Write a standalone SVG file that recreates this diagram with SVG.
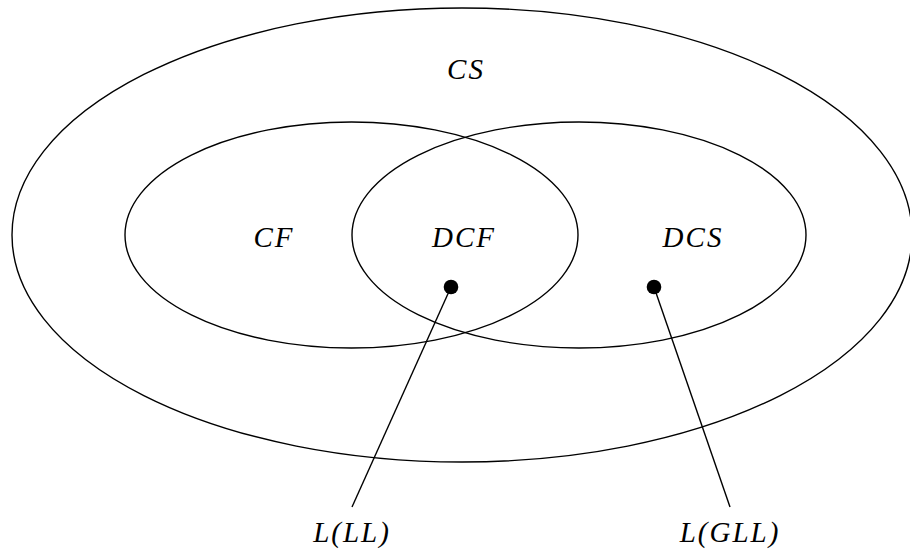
<svg xmlns="http://www.w3.org/2000/svg" width="910" height="556" viewBox="0 0 910 556">
<style>
.set{fill:none;stroke:#000;stroke-width:1.4}
.lbl{font-family:"Liberation Serif","DejaVu Serif",serif;font-style:italic;font-size:29px;letter-spacing:2px;text-anchor:middle;fill:#000}
.dot{fill:#000}
.conn{stroke:#000;stroke-width:1.4;fill:none}
</style>
<rect width="910" height="556" fill="#fff"/>
<g id="CS">
<ellipse class="set" cx="462" cy="235" rx="450" ry="227"/>
<text class="lbl" x="466" y="79">CS</text>
</g>
<g id="CF">
<ellipse class="set" cx="351.5" cy="235" rx="226.5" ry="113"/>
<text class="lbl" x="274" y="247">CF</text>
</g>
<g id="DCS">
<ellipse class="set" cx="579" cy="235" rx="227" ry="113"/>
<text class="lbl" x="693" y="247">DCS</text>
</g>
<g id="DCF">
<text class="lbl" x="464" y="247">DCF</text>
</g>
<g id="connectors">
<line class="conn" x1="451" y1="287" x2="352" y2="507"/>
<line class="conn" x1="654" y1="287" x2="730" y2="507"/>
</g>
<g id="LL">
<circle class="dot" cx="451" cy="287" r="7.3"/>
<text class="lbl" x="352" y="542">L(LL)</text>
</g>
<g id="GLL">
<circle class="dot" cx="654" cy="287" r="7.3"/>
<text class="lbl" x="730" y="542">L(GLL)</text>
</g>
</svg>
